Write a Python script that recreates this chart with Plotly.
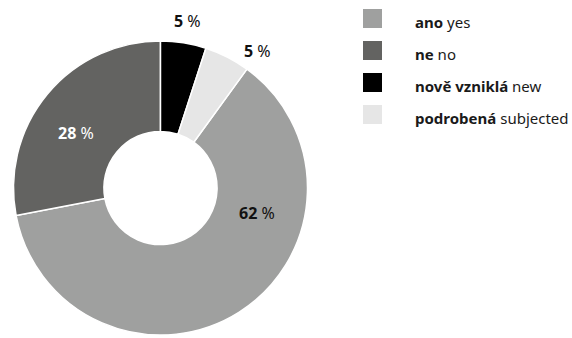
import plotly.graph_objects as go

# ---- data ----
labels_cz = ["ano", "ne", "nově vzniklá", "podrobená"]
labels_en = ["yes", "no", "new", "subjected"]
values = [62, 28, 5, 5]

# ---- styles ----
colors = ["#9fa09f", "#636361", "#000000", "#e6e6e6"]
label_colors = ["#111111", "#ffffff", "#111111", "#111111"]
FONT = "'Noto Sans', Lato, sans-serif"
W, H = 572, 338

total = sum(values)
rotation = 360 * (values[2] + values[3]) / total

fig = go.Figure()
fig.add_trace(go.Pie(
    labels=[f"{c} {e}" for c, e in zip(labels_cz, labels_en)],
    values=values,
    sort=False,
    direction="clockwise",
    rotation=rotation,
    hole=0.385,
    marker=dict(colors=colors, line=dict(color="#ffffff", width=1.5)),
    textinfo="none",
    showlegend=False,
    domain=dict(x=[12 / W, 309 / W], y=[1 - 335 / H, 1 - 41 / H]),
))

# percentage labels (pixel anchors of label centres)
label_px = [(257, 213), (76, 133), (187, 21), (257, 51)]
annotations = []
for v, (px, py), col in zip(values, label_px, label_colors):
    annotations.append(dict(
        x=px / W, y=1 - py / H, xref="paper", yref="paper",
        text=f"<b>{v}</b> %", showarrow=False,
        font=dict(family=FONT, size=16, color=col),
        xanchor="center", yanchor="middle",
    ))

# legend
shapes = []
for i, (cz, en, col) in enumerate(zip(labels_cz, labels_en, colors)):
    top = 9 + 32 * i
    shapes.append(dict(
        type="rect", xref="paper", yref="paper",
        x0=363 / W, x1=382 / W, y0=1 - (top + 19) / H, y1=1 - top / H,
        fillcolor=col, line=dict(width=0),
    ))
    annotations.append(dict(
        x=413 / W, y=1 - (top + 13) / H, xref="paper", yref="paper",
        text=f"<b>{cz}</b> {en}", showarrow=False,
        font=dict(family=FONT, size=15, color="#1a1a1a"),
        xanchor="left", yanchor="middle",
    ))

fig.update_layout(
    width=W, height=H,
    margin=dict(l=0, r=0, t=0, b=0),
    paper_bgcolor="#ffffff",
    plot_bgcolor="#ffffff",
    annotations=annotations,
    shapes=shapes,
)

fig.write_html("out.html")
